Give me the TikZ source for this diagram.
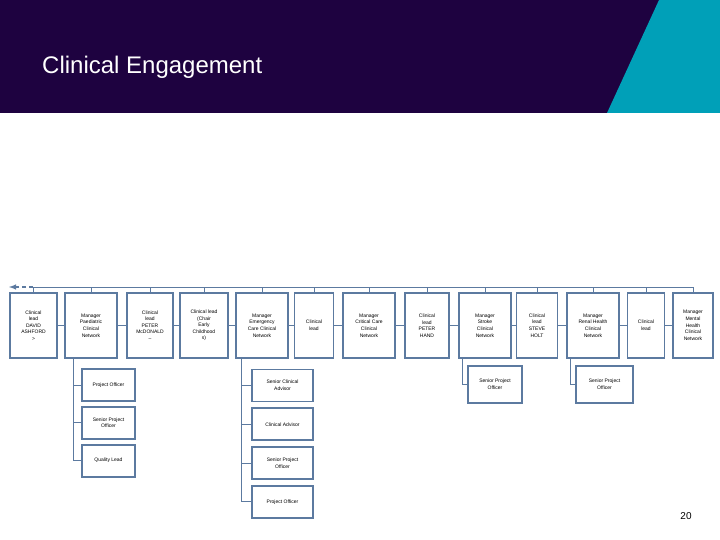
\documentclass[tikz,border=0pt]{standalone}
\usepackage{fontspec}
\setmainfont{Liberation Sans}
\usepackage{tikz}
\usetikzlibrary{arrows, positioning}
\definecolor{headpurple}{RGB}{30, 2, 64}
\definecolor{headteal}{RGB}{0, 160, 184}
\definecolor{steel}{RGB}{92, 122, 160}

\begin{document}
\begin{tikzpicture}[x=1pt, y=-1pt,
						role/.style={draw=steel, line width=1.8pt, fill=white, inner sep=0pt, minimum height=65pt, align=center, font=\fontsize{5}{6.6}\selectfont},
						sub/.style={draw=steel, line width=1.8pt, fill=white, inner sep=0pt, minimum height=32pt, align=center, font=\fontsize{5}{6.6}\selectfont},
						link/.style={draw=steel, line width=1pt},
						back/.style={draw=steel, line width=1.4pt, dash pattern=on 4pt off 3pt, -latex}
					]
					\useasboundingbox (0,0) rectangle (720,540);

					% Header
					\fill[headpurple] (0,0) rectangle (720,113);
					\fill[headteal] (659,0) -- (720,0) -- (720,113) -- (607,113) -- cycle;
					\node[anchor=base west, inner sep=0pt, text=white, font=\fontsize{24}{28}\selectfont] (title) at (42,74) {Clinical Engagement};

					% Top row
					\node[role, minimum width=47pt] (b1) at (33.5,325.5) {Clinical\\lead\\DAVID\\ASHFORD\\>};
					\node[role, minimum width=52pt] (b2) at (91,325.5) {Manager\\Paediatric\\Clinical\\Network};
					\node[role, minimum width=46pt] (b3) at (150,325.5) {Clinical\\lead\\PETER\\McDONALD\\--};
					\node[role, minimum width=48pt] (b4) at (204,325.5) {Clinical lead\\(Chair\\Early\\Childhood\\s)};
					\node[role, minimum width=52pt] (b5) at (262,325.5) {Manager\\Emergency\\Care Clinical\\Network};
					\node[role, minimum width=39pt] (b6) at (314,325.5) {Clinical\\lead};
					\node[role, minimum width=52pt] (b7) at (369,325.5) {Manager\\Critical Care\\Clinical\\Network};
					\node[role, minimum width=44pt] (b8) at (427,325.5) {Clinical\\lead\\PETER\\HAND};
					\node[role, minimum width=52pt] (b9) at (485,325.5) {Manager\\Stroke\\Clinical\\Network};
					\node[role, minimum width=41pt] (b10) at (537,325.5) {Clinical\\lead\\STEVE\\HOLT};
					\node[role, minimum width=52pt] (b11) at (593,325.5) {Manager\\Renal Health\\Clinical\\Network};
					\node[role, minimum width=37pt] (b12) at (646,325.5) {Clinical\\lead};
					\node[role, minimum width=40pt] (b13) at (693,325.5) {Manager\\Mental\\Health\\Clinical\\Network};

					% Paediatric team
					\node[sub, minimum width=53pt] (pa1) at (108.5,385) {Project Officer};
					\node[sub, minimum width=53pt, below=4pt of pa1] (pa2) {Senior Project\\Officer};
					\node[sub, minimum width=53pt, below=4pt of pa2] (pa3) {Quality Lead};

					% Emergency team
					\node[sub, minimum width=61pt] (em1) at (282.5,385.5) {Senior Clinical\\Advisor};
					\node[sub, minimum width=61pt, below=5pt of em1] (em2) {Clinical Advisor};
					\node[sub, minimum width=61pt, below=5pt of em2] (em3) {Senior Project\\Officer};
					\node[sub, minimum width=61pt, below=5pt of em3] (em4) {Project Officer};

					% Stroke and renal teams
					\node[sub, minimum width=54pt, minimum height=37pt] (st1) at (495,384.5) {Senior Project\\Officer};
					\node[sub, minimum width=57pt, minimum height=37pt] (rn1) at (604.5,384.5) {Senior Project\\Officer};

					% Bus
					\coordinate (busL) at (33,287);
					\coordinate (busR) at (693,287);
					\coordinate (away) at (9,287);
					\draw[link] (busL) -- (busR);
					\draw[back] (busL) -- (away);
					\foreach \i in {1,...,13}
						\draw[link] (b\i.north) -- (b\i.north |- busL);

					% Side links
					\foreach \i/\j in {1/2, 2/3, 3/4, 4/5, 5/6, 6/7, 7/8, 8/9, 9/10, 10/11, 11/12, 12/13}
						\draw[link] (b\i.east) -- (b\j.west);

					% Team links
					\coordinate (spA) at (73,358);
					\coordinate (spB) at (241,358);
					\coordinate (spC) at (462,358);
					\coordinate (spD) at (570,358);
					\foreach \n in {pa1, pa2, pa3}
						\draw[link] (spA) |- (\n.west);
					\foreach \n in {em1, em2, em3, em4}
						\draw[link] (spB) |- (\n.west);
					\draw[link] (spC) |- (st1.west);
					\draw[link] (spD) |- (rn1.west);

					% Page number
					\node[font=\fontsize{10}{12}\selectfont] (page) at (686,516) {20};
				\end{tikzpicture}
\end{document}
